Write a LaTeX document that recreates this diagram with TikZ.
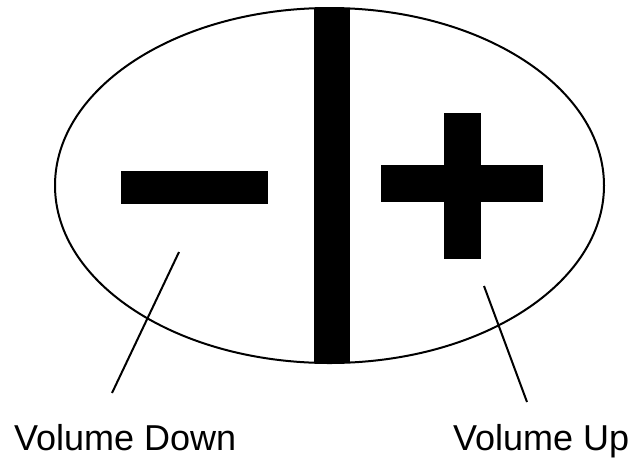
\documentclass[tikz,border=0pt]{standalone}
\usepackage{fontspec}
\setmainfont{Liberation Sans}
\begin{document}
\begin{tikzpicture}[x=1pt,y=-1pt, line width=2pt,
  every node/.style={font=\fontsize{36}{40}\selectfont, inner sep=0pt},
  bar/.style={fill=black, draw=none}]
\useasboundingbox (0,0) rectangle (634,459);

% Button outline
\draw (329.5,185.5) ellipse [x radius=274.5, y radius=177.5];

% Divider and signs
\fill[bar] (314,8) rectangle (350,363);
\fill[bar] (121,171) rectangle (268,204);
\fill[bar] (381,165) rectangle (543,202);
\fill[bar] (444,113) rectangle (481,259);

% Labels
\node[anchor=base west] (down) at (13,450) {Volume Down};
\node[anchor=base west] (up)   at (452,450) {Volume Up};

% Leader lines
\coordinate (downtip) at (179,252);
\coordinate (downend) at (112,393);
\coordinate (uptip)   at (484,286);
\coordinate (upend)   at (527,402);
\draw (downtip) -- (downend);
\draw (uptip)   -- (upend);

\end{tikzpicture}
\end{document}
